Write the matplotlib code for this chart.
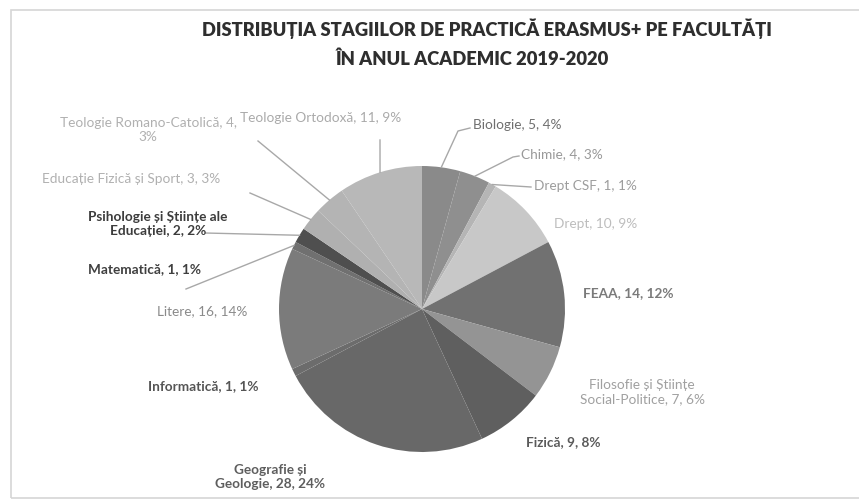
import matplotlib.pyplot as plt
import numpy as np
from matplotlib.lines import Line2D
from matplotlib.patches import Rectangle

# Data: internship mobilities per faculty (clockwise from 12 o'clock)
faculties = ["Biologie", "Chimie", "Drept CSF", "Drept", "FEAA",
             "Filosofie și Științe\nSocial-Politice", "Fizică",
             "Geografie și\nGeologie", "Informatică", "Litere", "Matematică",
             "Psihologie și Științe ale\nEducației",
             "Educație Fizică și Sport", "Teologie Romano-Catolică",
             "Teologie Ortodoxă"]
counts = [5, 4, 1, 10, 14, 7, 9, 28, 1, 16, 1, 2, 3, 4, 11]
colors = ["#8a8a8a", "#8f8f8f", "#b5b5b5", "#c8c8c8", "#717171",
          "#949494", "#5f5f5f", "#686868", "#6c6c6c", "#7b7b7b",
          "#707070", "#4f4f4f", "#b0b0b0", "#b4b4b4", "#b8b8b8"]
label_colors = ["#6f6f6f", "#999999", "#9d9d9d", "#bdbdbd", "#7a7a7a",
                "#a0a0a0", "#5a5a5a", "#5e5e5e", "#555555", "#8a8a8a",
                "#3f3f3f", "#3c3c3c", "#b0b0b0", "#b0b0b0", "#aaaaaa"]

total = sum(counts)
W, H = 859, 503


def fig_xy(x, y):
    # pixel position (top-left origin) -> figure fraction
    return x / W, 1 - y / H


fig = plt.figure(figsize=(W / 100, H / 100), dpi=100)
plt.rcParams['font.family'] = ['Lato', 'DejaVu Sans']

# light frame of the chart area
fig.add_artist(Rectangle(fig_xy(11, 498), (875 - 11) / W, (498 - 10) / H,
                         transform=fig.transFigure, fill=False,
                         edgecolor="#d6d6d6", linewidth=1.2))

cx, cy, r = 422, 309, 143
ax = fig.add_axes([(cx - r) / W, (H - cy - r) / H, 2 * r / W, 2 * r / H])
wedges, _ = ax.pie(counts, colors=colors, startangle=90, counterclock=False,
                   radius=1, wedgeprops=dict(linewidth=0))
ax.set_xlim(-1, 1)
ax.set_ylim(-1, 1)
ax.axis("off")

title_lines = ["DISTRIBUȚIA STAGIILOR DE PRACTICĂ ERASMUS+ PE FACULTĂȚI",
               "ÎN ANUL ACADEMIC 2019-2020"]
for line, (tx, ty) in zip(title_lines, [(487, 29), (472, 59)]):
    fig.text(*fig_xy(tx, ty), line, ha="center", va="center",
             fontsize=13.2, fontweight="heavy", color="#2e2e2e")

# label anchors (pixels), alignment, weight
label_pos = [(473, 125, "left"), (521, 154, "left"), (534, 186, "left"),
             (554, 224, "left"), (583, 293, "left"), (642, 392, "center"),
             (526, 442, "left"), (270, 477, "center"), (148, 386, "left"),
             (157, 311, "left"), (88, 269, "left"), (158, 224, "center"),
             (42, 179, "left"), (148, 130, "center"), (240, 118, "left")]
bold = [False, False, False, False, True, False, True, True, True, False,
        True, True, False, False, False]

# leader line path points after the pie edge (pixels)
leaders = {0: [(458, 131), (470, 128)], 1: [(513, 157), (519, 156)],
           2: [(531, 187)], 14: [(380, 140)], 13: [(258, 141)],
           12: [(250, 193)], 11: [(205, 233)], 10: [(186, 289)]}

inv = fig.transFigure.inverted()
for i, (name, n) in enumerate(zip(faculties, counts)):
    pct = round(n / total * 100)
    if i == 13:
        txt = f"{name}, {n},\n{pct}%"
    else:
        txt = f"{name}, {n}, {pct}%"
    x, y, ha = label_pos[i]
    fig.text(*fig_xy(x, y), txt, ha=ha, va="center", fontsize=9.8,
             color=label_colors[i], multialignment="center",
             fontweight="bold" if bold[i] else "normal")
    if i in leaders:
        w = wedges[i]
        mid = np.deg2rad((w.theta1 + w.theta2) / 2)
        edge = inv.transform(ax.transData.transform((np.cos(mid), np.sin(mid))))
        pts = [edge] + [fig_xy(px, py) for px, py in leaders[i]]
        xs, ys = zip(*pts)
        fig.add_artist(Line2D(xs, ys, transform=fig.transFigure,
                              color="#a8a8a8", linewidth=1))

fig.savefig("out.png", dpi=100)
